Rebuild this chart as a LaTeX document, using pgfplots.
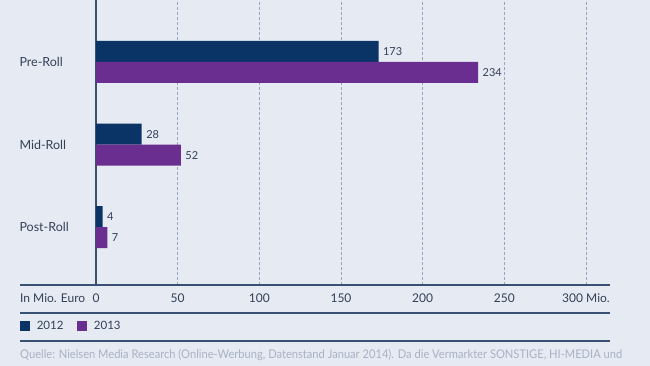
\documentclass[border=0pt]{standalone}
\usepackage{fontspec}
\setmainfont{Lato}
\usepackage{graphicx}
\usepackage{pgfplots}
\pgfplotsset{compat=1.18}
\definecolor{bg}{RGB}{230,234,242}
\definecolor{navy}{RGB}{11,52,102}
\definecolor{purp}{RGB}{106,46,145}
\definecolor{txt}{RGB}{50,64,88}
\definecolor{slate}{RGB}{58,80,112}
\definecolor{gridc}{RGB}{150,164,196}
\definecolor{src}{RGB}{168,178,198}
\begin{document}
\begin{tikzpicture}
\path[use as bounding box] (0,0) rectangle (650pt,366pt);
\fill[bg] (0,0) rectangle (650pt,366pt);
\begin{axis}[
  at={(96pt,81pt)}, anchor=south west,
  scale only axis, width=490pt, height=285pt,
  xmin=0, xmax=300, ymin=-0.7, ymax=2.75,
  /pgf/number format/assume math mode=true,
  axis x line*=bottom, axis y line*=left,
  axis line style={draw=none},
  y axis line style={draw=slate, line width=1.2pt},
  major tick length=0pt,
  xtick={0,50,100,150,200,250,300},
  xticklabels={0,50,100,150,200,250,300 Mio.},
  ytick={0,1,2},
  yticklabels={Post-Roll,Mid-Roll,Pre-Roll},
  xticklabel style={anchor=center, yshift=-13pt, font=\fontsize{12}{14}\selectfont, text=txt},
  yticklabel style={anchor=west, xshift=-80pt, font=\fontsize{12.5}{14}\selectfont, text=txt},
  xmajorgrids,
  major grid style={gridc, dash pattern=on 3pt off 2pt, line width=0.6pt},
  xbar, bar width=21pt,
  nodes near coords,
  every node near coord/.append style={font=\fontsize{11}{13}\selectfont, text=txt, xshift=1pt},
  legend columns=2,
  legend style={at={(axis description cs:-0.155,-0.144)}, anchor=west, draw=none, fill=none,
    inner sep=0pt, font=\fontsize{11.5}{13}\selectfont, text=txt,
    /tikz/every odd column/.append style={column sep=5pt},
    /tikz/every even column/.append style={column sep=12pt}},
  clip=false,
]
\addplot[draw=none, fill=navy, bar shift=10.5pt,
  legend image code/.code={\fill[navy] (0pt,-4.5pt) rectangle (9.5pt,5pt);}]
  coordinates {(173,2) (28,1) (4,0)};
\addlegendentry{2012}
\addplot[draw=none, fill=purp, bar shift=-10.5pt,
  legend image code/.code={\fill[purp] (0pt,-4.5pt) rectangle (9.5pt,5pt);}]
  coordinates {(234,2) (52,1) (7,0)};
\addlegendentry{2013}
\end{axis}
\draw[slate, line width=1.3pt] (20pt,81pt) -- (610pt,81pt);
\draw[slate, line width=1.3pt] (20pt,53pt) -- (610pt,53pt);
\draw[slate, line width=1.3pt] (20pt,25pt) -- (610pt,25pt);
\node[anchor=west, inner sep=0pt, text=txt, font=\fontsize{12}{14}\selectfont] at (20pt,68pt) {In Mio. Euro};
\node[anchor=west, inner sep=0pt, text=src, font=\fontsize{12}{14}\selectfont] at (20pt,11pt) {\resizebox{602pt}{\height}{Quelle: Nielsen Media Research (Online-Werbung, Datenstand Januar 2014). Da die Vermarkter SONSTIGE, HI-MEDIA und}};
\end{tikzpicture}
\end{document}
